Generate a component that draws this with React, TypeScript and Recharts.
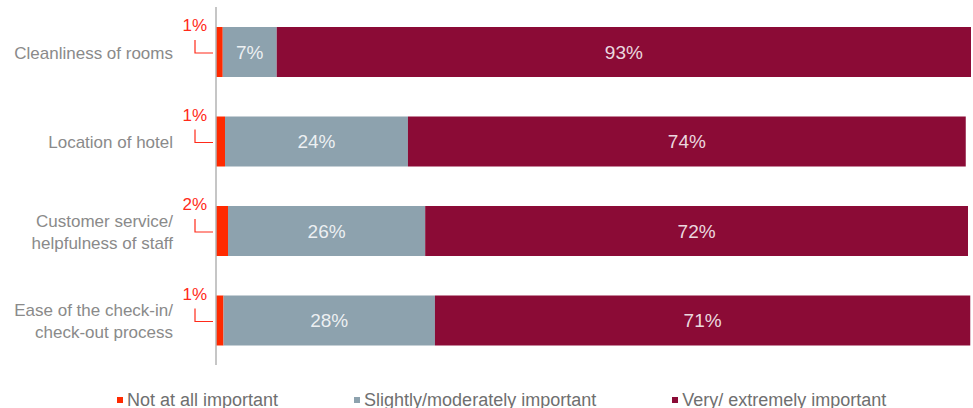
import React from "react";
import { BarChart, Bar, XAxis, YAxis, Legend, LabelList } from "recharts";

const categories = [
  "Cleanliness of rooms",
  "Location of hotel",
  "Customer service/\nhelpfulness of staff",
  "Ease of the check-in/\ncheck-out process",
];
const notAtAll = [0.9, 1.2, 1.6, 1.0];
const slightly = [7.2, 24.4, 26.3, 28.2];
const very = [92.6, 74.4, 72.4, 71.4];

const seriesNames = ["Not at all important", "Slightly/moderately important", "Very/ extremely important"];
const colors = ["#ff2a00", "#8da2ae", "#8b0b36"];

const data = categories.map((name, i) => ({
  name,
  a: notAtAll[i],
  b: slightly[i],
  c: very[i],
}));

const FONT = "'Liberation Sans', Arial, Helvetica, sans-serif";
const fmt = (v: any) => `${Math.round(Number(v))}%`;

const CategoryTick = (props: any) => {
  const { x, y, payload } = props;
  const lines = String(payload.value).split("\n");
  const lh = 22;
  const start = y + 1 - ((lines.length - 1) * lh) / 2;
  return (
    <text x={x} y={start} textAnchor="end" fill="#8a8a8a" fontSize={17} fontFamily={FONT}>
      {lines.map((l, i) => (
        <tspan key={i} x={x} y={start + i * lh} dy="0.36em">
          {l}
        </tspan>
      ))}
    </text>
  );
};

const RedLabel = (props: any) => {
  const { x, y, height, value } = props;
  const c = y + height / 2;
  const vx = x - 21;
  return (
    <g>
      <text x={x - 9} y={c - 21} textAnchor="end" fill="#ff2a1a" fontSize={17} fontFamily={FONT}>
        {fmt(value)}
      </text>
      <polyline
        points={`${vx},${c - 12} ${vx},${c + 1} ${x - 3},${c + 1}`}
        fill="none"
        stroke="#ff2a1a"
        strokeWidth={1.2}
      />
    </g>
  );
};

const LegendContent = (props: any) => {
  const payload = props.payload || [];
  return (
    <div
      style={{
        height: 20,
        display: "flex",
        alignItems: "center",
        paddingLeft: 117,
        gap: 76,
        fontFamily: FONT,
        fontSize: 18,
        color: "#6f6f6f",
        whiteSpace: "nowrap",
      }}
    >
      {payload.map((p: any, i: number) => (
        <div key={i} style={{ display: "flex", alignItems: "center" }}>
          <span style={{ width: 6, height: 6, background: p.color, marginRight: 4, display: "inline-block" }} />
          <span>{p.value}</span>
        </div>
      ))}
    </div>
  );
};

export default function App() {
  return (
    <div style={{ position: "absolute", left: 0, top: 0, background: "#fff" }}>
      <BarChart
        width={973}
        height={408}
        data={data}
        layout="vertical"
        margin={{ top: 7, right: 2, bottom: 23, left: 0 }}
      >
        <XAxis type="number" domain={[0, 100.7]} hide />
        <YAxis
          type="category"
          dataKey="name"
          width={216}
          tickLine={false}
          tickSize={0}
          tickMargin={43}
          axisLine={{ stroke: "#b3b3b3", strokeWidth: 1.5 }}
          tick={<CategoryTick />}
        />
        <Legend
          verticalAlign="bottom"
          content={<LegendContent />}
          wrapperStyle={{ bottom: -2, left: 0, width: 973 }}
        />
        <Bar dataKey="a" stackId="s" name={seriesNames[0]} fill={colors[0]} barSize={50} isAnimationActive={false}>
          <LabelList dataKey="a" content={<RedLabel />} />
        </Bar>
        <Bar dataKey="b" stackId="s" name={seriesNames[1]} fill={colors[1]} barSize={50} isAnimationActive={false}>
          <LabelList
            dataKey="b"
            position="center"
            formatter={fmt}
            fill="#ffffff"
            fillOpacity={0.85}
            fontSize={19}
            fontFamily={FONT}
          />
        </Bar>
        <Bar dataKey="c" stackId="s" name={seriesNames[2]} fill={colors[2]} barSize={50} isAnimationActive={false}>
          <LabelList
            dataKey="c"
            position="center"
            formatter={fmt}
            fill="#ffffff"
            fillOpacity={0.85}
            fontSize={19}
            fontFamily={FONT}
          />
        </Bar>
      </BarChart>
    </div>
  );
}
